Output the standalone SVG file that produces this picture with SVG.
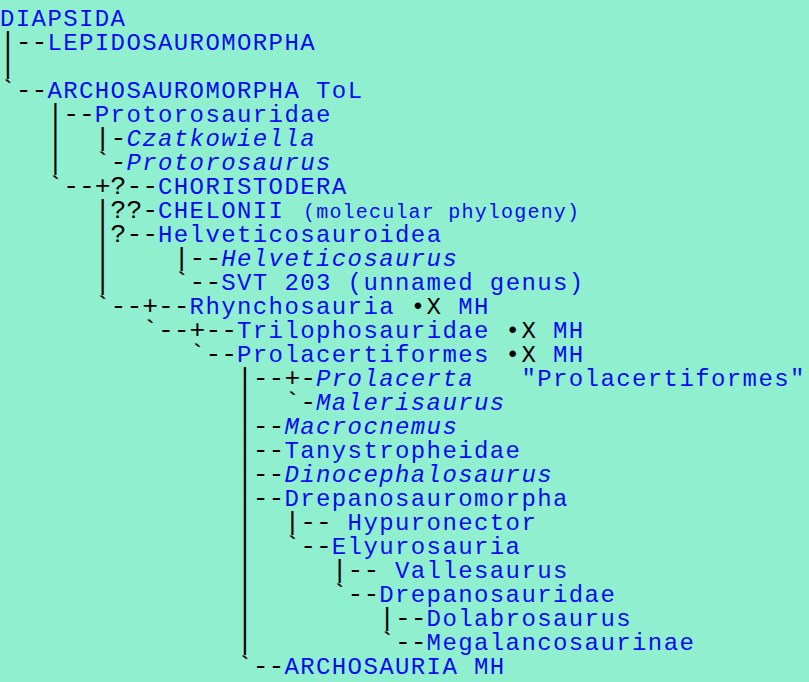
<svg xmlns="http://www.w3.org/2000/svg" width="809" height="682" viewBox="0 0 809 682">
<style>
text{font-family:"Liberation Mono","Courier New",monospace;font-size:24px;letter-spacing:1.4px;}
#connectors text{font-size:26.33px;letter-spacing:0;}
.c{fill:#000000;}
.n{fill:#0a0aee;}
.i{font-style:italic;}
.s{font-size:20px;letter-spacing:1.2px;}
</style>
<rect width="809" height="682" fill="#8FEFCF"/>
<g id="connectors" class="c">
<text x="0" y="50">|--</text>
<text x="0" y="74">|</text>
<text x="0" y="98">`--</text>
<text x="47.4" y="122">|--</text>
<text x="47.4" y="146">|</text><text x="94.8" y="146">|-</text>
<text x="47.4" y="170">|</text><text x="94.8" y="170">`-</text>
<text x="47.4" y="194">`--+?--</text>
<text x="94.8" y="218">|??-</text>
<text x="94.8" y="242">|?--</text>
<text x="94.8" y="266">|</text><text x="173.8" y="266">|--</text>
<text x="94.8" y="290">|</text><text x="173.8" y="290">`--</text>
<text x="94.8" y="314">`--+--</text>
<text x="142.2" y="338">`--+--</text>
<text x="189.6" y="362">`--</text>
<text x="237" y="386">|--+-</text>
<text x="237" y="410">|</text><text x="284.4" y="410">`-</text>
<text x="237" y="434">|--</text>
<text x="237" y="458">|--</text>
<text x="237" y="482">|--</text>
<text x="237" y="506">|--</text>
<text x="237" y="530">|</text><text x="284.4" y="530">|--</text>
<text x="237" y="554">|</text><text x="284.4" y="554">`--</text>
<text x="237" y="578">|</text><text x="331.8" y="578">|--</text>
<text x="237" y="602">|</text><text x="331.8" y="602">`--</text>
<text x="237" y="626">|</text><text x="379.2" y="626">|--</text>
<text x="237" y="650">|</text><text x="379.2" y="650">`--</text>
<text x="237" y="674">`--</text>
</g>
<g id="diapsida" class="n"><text x="0" y="26">DIAPSIDA</text></g>
<g id="lepidosauromorpha" class="n"><text x="47.4" y="50">LEPIDOSAUROMORPHA</text></g>
<g id="archosauromorpha" class="n"><text x="47.4" y="98">ARCHOSAUROMORPHA ToL</text></g>
<g id="protorosauridae" class="n"><text x="94.8" y="122">Protorosauridae</text></g>
<g id="czatkowiella" class="n i"><text x="126.4" y="146">Czatkowiella</text></g>
<g id="protorosaurus" class="n i"><text x="126.4" y="170">Protorosaurus</text></g>
<g id="choristodera" class="n"><text x="158" y="194">CHORISTODERA</text></g>
<g id="chelonii" class="n"><text x="158" y="218">CHELONII</text><text class="s" x="303" y="218">(molecular phylogeny)</text></g>
<g id="helveticosauroidea" class="n"><text x="158" y="242">Helveticosauroidea</text></g>
<g id="helveticosaurus" class="n i"><text x="221.2" y="266">Helveticosaurus</text></g>
<g id="svt203" class="n"><text x="221.2" y="290">SVT 203 (unnamed genus)</text></g>
<g id="rhynchosauria"><text class="n" x="189.6" y="314">Rhynchosauria</text><text class="c" x="410.8" y="314">•X</text><text class="n" x="458.2" y="314">MH</text></g>
<g id="trilophosauridae"><text class="n" x="237" y="338">Trilophosauridae</text><text class="c" x="505.6" y="338">•X</text><text class="n" x="553" y="338">MH</text></g>
<g id="prolacertiformes"><text class="n" x="237" y="362">Prolacertiformes</text><text class="c" x="505.6" y="362">•X</text><text class="n" x="553" y="362">MH</text></g>
<g id="prolacerta"><text class="n i" x="316" y="386">Prolacerta</text><text class="n" x="521.4" y="386">"Prolacertiformes"</text></g>
<g id="malerisaurus" class="n i"><text x="316" y="410">Malerisaurus</text></g>
<g id="macrocnemus" class="n i"><text x="284.4" y="434">Macrocnemus</text></g>
<g id="tanystropheidae" class="n"><text x="284.4" y="458">Tanystropheidae</text></g>
<g id="dinocephalosaurus" class="n i"><text x="284.4" y="482">Dinocephalosaurus</text></g>
<g id="drepanosauromorpha" class="n"><text x="284.4" y="506">Drepanosauromorpha</text></g>
<g id="hypuronector" class="n"><text x="347.6" y="530">Hypuronector</text></g>
<g id="elyurosauria" class="n"><text x="331.8" y="554">Elyurosauria</text></g>
<g id="vallesaurus" class="n"><text x="395" y="578">Vallesaurus</text></g>
<g id="drepanosauridae" class="n"><text x="379.2" y="602">Drepanosauridae</text></g>
<g id="dolabrosaurus" class="n"><text x="426.6" y="626">Dolabrosaurus</text></g>
<g id="megalancosaurinae" class="n"><text x="426.6" y="650">Megalancosaurinae</text></g>
<g id="archosauria" class="n"><text x="284.4" y="674">ARCHOSAURIA MH</text></g>
</svg>
